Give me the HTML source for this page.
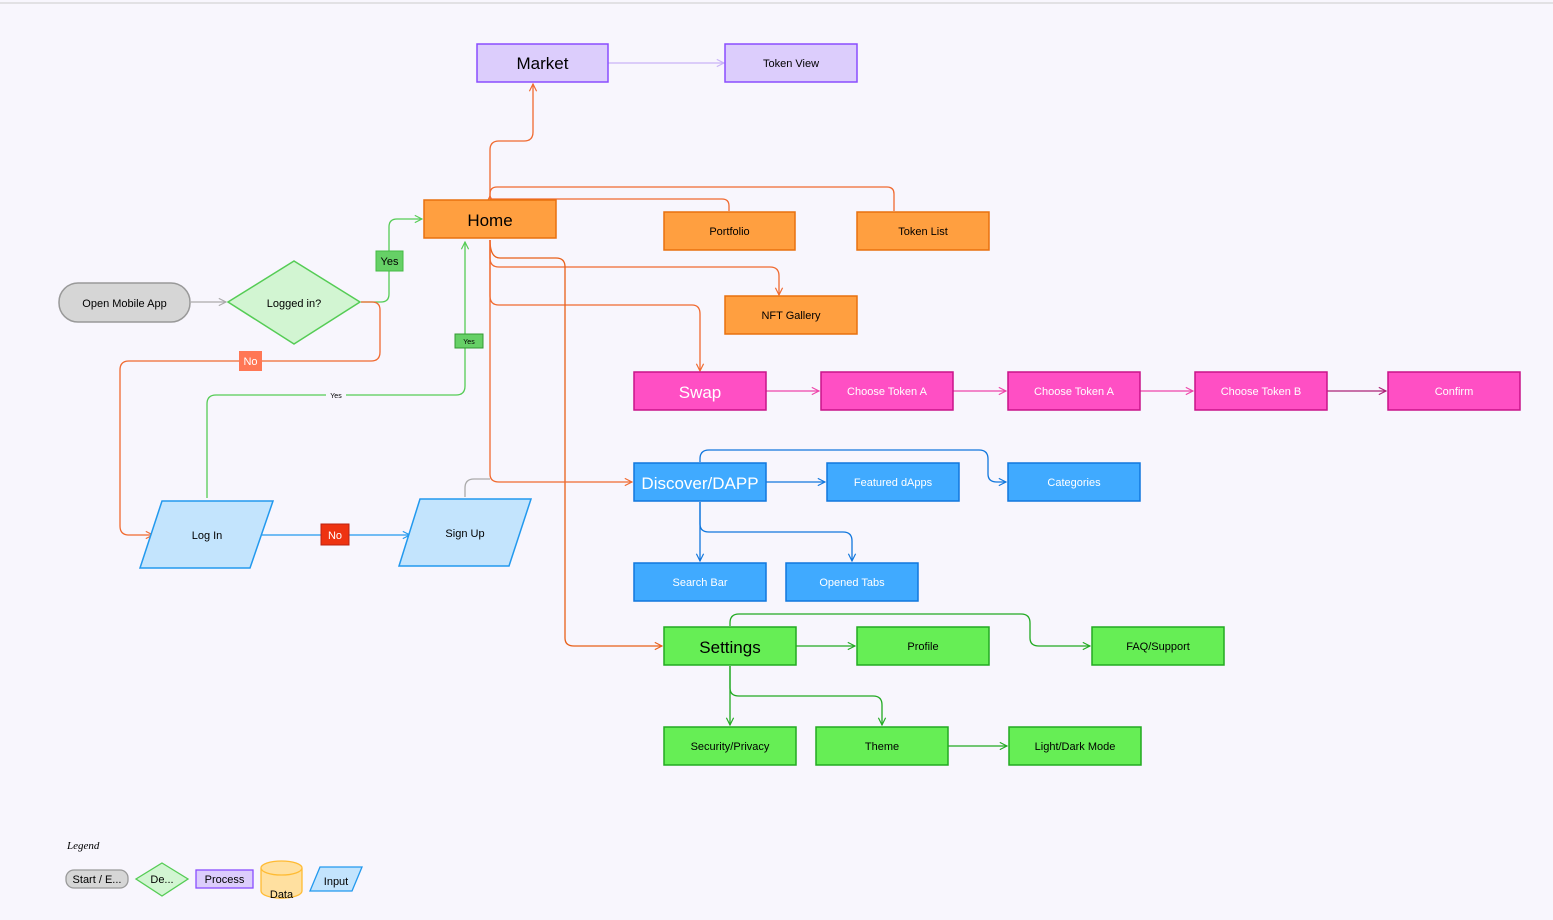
<!DOCTYPE html>
<html><head><meta charset="utf-8"><style>
html,body{margin:0;padding:0;background:#f8f6fd;}
svg{display:block;font-family:"Liberation Sans",sans-serif;}
</style></head><body>
<svg width="1553" height="920" viewBox="0 0 1553 920" xmlns="http://www.w3.org/2000/svg">
<defs>
<marker id="a" viewBox="0 0 10 10" refX="9" refY="5" markerWidth="9" markerHeight="9" orient="auto" markerUnits="userSpaceOnUse"><path d="M1,1 L9,5 L1,9" fill="none" stroke="context-stroke" stroke-width="1.3"/></marker>
</defs>
<rect width="1553" height="920" fill="#f8f6fd"/>
<line x1="0" y1="3" x2="1553" y2="3" stroke="#ccc"/>
<g fill="none" stroke-width="1.3">
<!-- market -->
<path d="M608,63 H724" stroke="#c9b3f7" marker-end="url(#a)"/>
<path d="M490,199 V150 Q490,141 499,141 H524 Q533,141 533,132 V84" stroke="#f06a30" marker-end="url(#a)"/>
<!-- home to portfolio/tokenlist -->
<path d="M490,199 V194 Q490,187 497,187 H887 Q894,187 894,194 V211" stroke="#f06a30"/>
<path d="M490,199 H722 Q729,199 729,206 V211" stroke="#f06a30"/>
<path d="M490,200 V196" stroke="#f06a30" marker-end="url(#a)"/>
<path d="M490,240 V258 Q490,267 499,267 H770 Q779,267 779,276 V295" stroke="#f06a30" marker-end="url(#a)"/>
<path d="M490,240 V296 Q490,305 499,305 H692 Q700,305 700,314 V371" stroke="#f06a30" marker-end="url(#a)"/>
<path d="M490,240 Q490,258 500,258 H556 Q565,258 565,267 V638 Q565,646 574,646 H662" stroke="#e8601a" marker-end="url(#a)"/>
<path d="M490,240 V474 Q490,482 499,482 H632" stroke="#f06a30" marker-end="url(#a)"/>
<!-- left flow -->
<path d="M191,302 H226" stroke="#aaa" marker-end="url(#a)"/>
<path d="M361,302 H381 Q389,302 389,294 V227 Q389,219 397,219 H422" stroke="#55cc55" marker-end="url(#a)"/>
<path d="M361,302 H372 Q380,302 380,310 V352 Q380,361 371,361 H129 Q120,361 120,370 V526 Q120,535 129,535 H153" stroke="#f06a30" marker-end="url(#a)"/>
<path d="M207,498 V404 Q207,395 216,395 H456 Q465,395 465,386 V242" stroke="#55cc55" marker-end="url(#a)"/>
<path d="M262,535 H410" stroke="#2299ee" marker-end="url(#a)"/>
<path d="M465,497 V488 Q465,479 474,479 H490" stroke="#aaa"/>
<!-- swap row -->
<path d="M766,391 H819" stroke="#ee44aa" marker-end="url(#a)"/>
<path d="M953,391 H1006" stroke="#ee44aa" marker-end="url(#a)"/>
<path d="M1140,391 H1193" stroke="#ee44aa" marker-end="url(#a)"/>
<path d="M1327,391 H1386" stroke="#aa2277" marker-end="url(#a)"/>
<!-- discover -->
<path d="M766,482 H825" stroke="#1177dd" marker-end="url(#a)"/>
<path d="M700,462 V459 Q700,450 709,450 H979 Q988,450 988,459 V474 Q988,482 997,482 H1006" stroke="#1177dd" marker-end="url(#a)"/>
<path d="M700,502 V561" stroke="#1177dd" marker-end="url(#a)"/>
<path d="M700,502 V524 Q700,532 709,532 H843 Q852,532 852,541 V561" stroke="#1177dd" marker-end="url(#a)"/>
<!-- settings -->
<path d="M796,646 H855" stroke="#22aa22" marker-end="url(#a)"/>
<path d="M730,626 V623 Q730,614 739,614 H1021 Q1030,614 1030,623 V638 Q1030,646 1039,646 H1090" stroke="#22aa22" marker-end="url(#a)"/>
<path d="M730,666 V725" stroke="#22aa22" marker-end="url(#a)"/>
<path d="M730,666 V688 Q730,696 739,696 H873 Q882,696 882,705 V725" stroke="#22aa22" marker-end="url(#a)"/>
<path d="M948,746 H1007" stroke="#22aa22" marker-end="url(#a)"/>
</g>
<!-- labels on connectors -->
<rect x="376" y="251" width="27" height="20" fill="#66d066" stroke="#4b4"/><text x="389.5" y="265" font-size="11" text-anchor="middle">Yes</text>
<rect x="239" y="351" width="23" height="20" fill="#ff7755"/><text x="250.5" y="365" font-size="11" text-anchor="middle" fill="#fff">No</text>
<rect x="455" y="334" width="28" height="14" fill="#66d066" stroke="#393"/><text x="469" y="344" font-size="7" text-anchor="middle">Yes</text>
<rect x="326" y="390" width="20" height="10" fill="#f8f6fd"/><text x="336" y="398" font-size="7" text-anchor="middle">Yes</text>
<rect x="321" y="524" width="28" height="21" fill="#ee3311" stroke="#b21"/><text x="335" y="539" font-size="11" text-anchor="middle" fill="#fff">No</text>
<!-- shapes -->
<g font-size="11" text-anchor="middle">
<rect x="59" y="283" width="131" height="39" rx="19" fill="#d6d6d6" stroke="#999" stroke-width="1.5"/><text x="124.5" y="307">Open Mobile App</text>
<polygon points="294,261 360,302 294,344 228,302" fill="#d2f5d2" stroke="#55cc55" stroke-width="1.5"/><text x="294" y="307">Logged in?</text>
<polygon points="162,501 273,501 250,568 140,568" fill="#c3e4fd" stroke="#2299ee" stroke-width="1.5"/><text x="207" y="539">Log In</text>
<polygon points="420,499 531,499 509,566 399,566" fill="#c3e4fd" stroke="#2299ee" stroke-width="1.5"/><text x="465" y="537">Sign Up</text>

<rect x="477" y="44" width="131" height="38" fill="#dccdfc" stroke="#8a4dff" stroke-width="1.5"/><text x="542.5" y="69" font-size="17">Market</text>
<rect x="725" y="44" width="132" height="38" fill="#dccdfc" stroke="#8a4dff" stroke-width="1.5"/><text x="791" y="67">Token View</text>

<g fill="#ff9f40" stroke="#e8700e" stroke-width="1.5">
<rect x="424" y="200" width="132" height="38"/><rect x="664" y="212" width="131" height="38"/><rect x="857" y="212" width="132" height="38"/><rect x="725" y="296" width="132" height="38"/>
</g>
<text x="490" y="226" font-size="17">Home</text><text x="729.5" y="235">Portfolio</text><text x="923" y="235">Token List</text><text x="791" y="319">NFT Gallery</text>

<g fill="#ff4fc4" stroke="#c8148a" stroke-width="1.5">
<rect x="634" y="372" width="132" height="38"/><rect x="821" y="372" width="132" height="38"/><rect x="1008" y="372" width="132" height="38"/><rect x="1195" y="372" width="132" height="38"/><rect x="1388" y="372" width="132" height="38"/>
</g>
<g fill="#fff"><text x="700" y="398" font-size="17">Swap</text><text x="887" y="395">Choose Token A</text><text x="1074" y="395">Choose Token A</text><text x="1261" y="395">Choose Token B</text><text x="1454" y="395">Confirm</text></g>

<g fill="#40aaff" stroke="#1177dd" stroke-width="1.5">
<rect x="634" y="463" width="132" height="38"/><rect x="827" y="463" width="132" height="38"/><rect x="1008" y="463" width="132" height="38"/><rect x="634" y="563" width="132" height="38"/><rect x="786" y="563" width="132" height="38"/>
</g>
<g fill="#fff"><text x="700" y="489" font-size="17">Discover/DAPP</text><text x="893" y="486">Featured dApps</text><text x="1074" y="486">Categories</text><text x="700" y="586">Search Bar</text><text x="852" y="586">Opened Tabs</text></g>

<g fill="#66ee55" stroke="#22aa22" stroke-width="1.5">
<rect x="664" y="627" width="132" height="38"/><rect x="857" y="627" width="132" height="38"/><rect x="1092" y="627" width="132" height="38"/><rect x="664" y="727" width="132" height="38"/><rect x="816" y="727" width="132" height="38"/><rect x="1009" y="727" width="132" height="38"/>
</g>
<text x="730" y="653" font-size="17">Settings</text><text x="923" y="650">Profile</text><text x="1158" y="650">FAQ/Support</text><text x="730" y="750">Security/Privacy</text><text x="882" y="750">Theme</text><text x="1075" y="750">Light/Dark Mode</text>
</g>
<!-- legend -->
<text x="67" y="849" font-size="11" font-style="italic" font-family="Liberation Serif,serif">Legend</text>
<g font-size="11" text-anchor="middle">
<rect x="66" y="870" width="62" height="18" rx="8" fill="#d6d6d6" stroke="#999" stroke-width="1.3"/><text x="97" y="883">Start / E...</text>
<polygon points="162,863 188,879 162,896 136,879" fill="#d2f5d2" stroke="#55cc55" stroke-width="1.3"/><text x="162" y="883">De...</text>
<rect x="196" y="870" width="57" height="18" fill="#dccdfc" stroke="#8a4dff" stroke-width="1.3"/><text x="224.5" y="883">Process</text>
<path d="M261,868 V891 A20,7 0 0 0 302,891 V868" fill="#ffe0a0" stroke="#ffbb33" stroke-width="1.3"/><ellipse cx="281.5" cy="868" rx="20.5" ry="7" fill="#ffe0a0" stroke="#ffbb33" stroke-width="1.3"/><text x="281.5" y="898">Data</text>
<polygon points="320,867 362,867 352,891 310,891" fill="#c3e4fd" stroke="#2299ee" stroke-width="1.3"/><text x="336" y="885">Input</text>
</g>
</svg>
</body></html>
